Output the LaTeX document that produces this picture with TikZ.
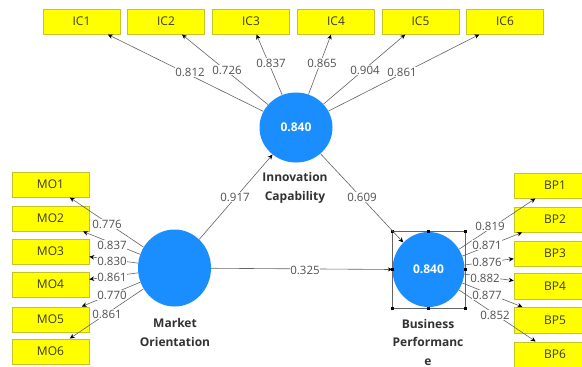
\documentclass[tikz,border=0pt]{standalone}
\usepackage{fontspec}
\setmainfont{Open Sans}
\usetikzlibrary{shapes.geometric,arrows.meta}

\definecolor{indfill}{RGB}{255,255,0}
\definecolor{indborder}{RGB}{196,196,40}
\definecolor{indtext}{RGB}{60,60,40}
\definecolor{lvblue}{RGB}{26,142,255}
\definecolor{linegray}{RGB}{100,100,100}
\definecolor{numgray}{RGB}{80,80,80}
\definecolor{namegray}{RGB}{50,50,50}

\tikzset{
  ind/.style={draw=indborder, line width=0.5pt, fill=indfill, minimum width=77pt,
    minimum height=25.5pt, inner sep=0pt, text=indtext,
    font=\fontsize{12}{12}\selectfont},
  lv/.style={ellipse, fill=lvblue, draw=none, inner sep=0pt, text=white,
    font=\bfseries\fontsize{12}{12}\selectfont},
  load/.style={draw=linegray, line width=0.6pt,
    -{Stealth[length=5pt,width=4.5pt,black]}},
  coef/.style={fill=white, inner sep=0.8pt, text=numgray,
    font=\fontsize{11.5}{11.5}\selectfont},
  lvname/.style={text=namegray, align=center,
    font=\bfseries\fontsize{12}{18.5}\selectfont},
  selbox/.style={draw=linegray, line width=0.5pt},
  handle/.style={fill=black, draw=none, minimum size=3pt, inner sep=0pt},
}

\begin{document}
\begin{tikzpicture}[x=1pt,y=-1pt]
\useasboundingbox (0,0) rectangle (582,367);
\clip (0,0) rectangle (582,367);
\fill[white] (0,0) rectangle (582,367);

% latent variables
\node[lv, minimum width=73pt, minimum height=70pt] (IC) at (296,127.5) {0.840};
\node[lv, minimum width=73pt, minimum height=77pt] (MO) at (174.5,268) {};
\node[lv, minimum width=72pt, minimum height=75pt] (BP) at (428.5,269.5) {0.840};

\node[lvname] (ICname) at (295,188) {Innovation\\Capability};
\node[lvname] (MOname) at (175,332.5) {Market\\Orientation};
\node[lvname] (BPname) at (428,342) {Business\\Performanc\\e};

% selection frame round Business Performance
\draw[selbox] (392,231) rectangle (465,308);
\foreach \hx in {392,428.5,465}
  \foreach \hy in {231,308}
    \node[handle] at (\hx,\hy) {};
\node[handle] at (392,269.5) {};
\node[handle] at (465,269.5) {};

% indicators of Innovation Capability
\foreach \i/\cx in {1/81.5,2/166,3/251,4/336,5/420.5,6/505}
  \node[ind] (ic\i) at (\cx,21.5) {IC\i};

% indicators of Market Orientation
\foreach \i/\cy in {1/184.5,2/218.5,3/251.5,4/284.5,5/319.5,6/351.5}
  \node[ind] (mo\i) at (50.5,\cy) {MO\i};

% indicators of Business Performance
\foreach \i/\cy in {1/185.5,2/219.5,3/253.5,4/286,5/320,6/354.5}
  \node[ind, minimum width=82pt] (bp\i) at (555,\cy) {BP\i};

% outer loadings
\foreach \i in {1,...,6} {
  \draw[load] (IC) -- (ic\i);
  \draw[load] (MO) -- (mo\i);
  \draw[load] (BP) -- (bp\i);
}

% structural paths
\draw[load] (MO) -- (IC);
\draw[load] (IC) -- (BP);
\draw[load, -{Stealth[length=4pt,width=4pt,black]}] (MO) -- (392,269.5) coordinate (bpin);

% path coefficients
\node[coef] (c1) at (235,197) {0.917};
\node[coef] (c2) at (362,197) {0.609};
\node[coef] (c3) at (305,270) {0.325};

% loadings, Innovation Capability
\node[coef] (lic1) at (190,72) {0.812};
\node[coef] (lic2) at (227,70) {0.726};
\node[coef] (lic3) at (271,63) {0.837};
\node[coef] (lic4) at (322,63) {0.865};
\node[coef] (lic5) at (365,70) {0.904};
\node[coef] (lic6) at (402,72) {0.861};

% loadings, Market Orientation
\node[coef] (lmo1) at (107,224) {0.776};
\node[coef] (lmo2) at (112,245) {0.837};
\node[coef] (lmo3) at (112,261) {0.830};
\node[coef] (lmo4) at (112,277) {0.861};
\node[coef] (lmo5) at (112,295) {0.770};
\node[coef] (lmo6) at (107,314) {0.861};

% loadings, Business Performance
\node[coef] (lbp1) at (490,226) {0.819};
\node[coef] (lbp2) at (487,245) {0.871};
\node[coef] (lbp3) at (487,262) {0.876};
\node[coef] (lbp4) at (485,278) {0.882};
\node[coef] (lbp5) at (487,295) {0.877};
\node[coef] (lbp6) at (495,315) {0.852};
\end{tikzpicture}
\end{document}
